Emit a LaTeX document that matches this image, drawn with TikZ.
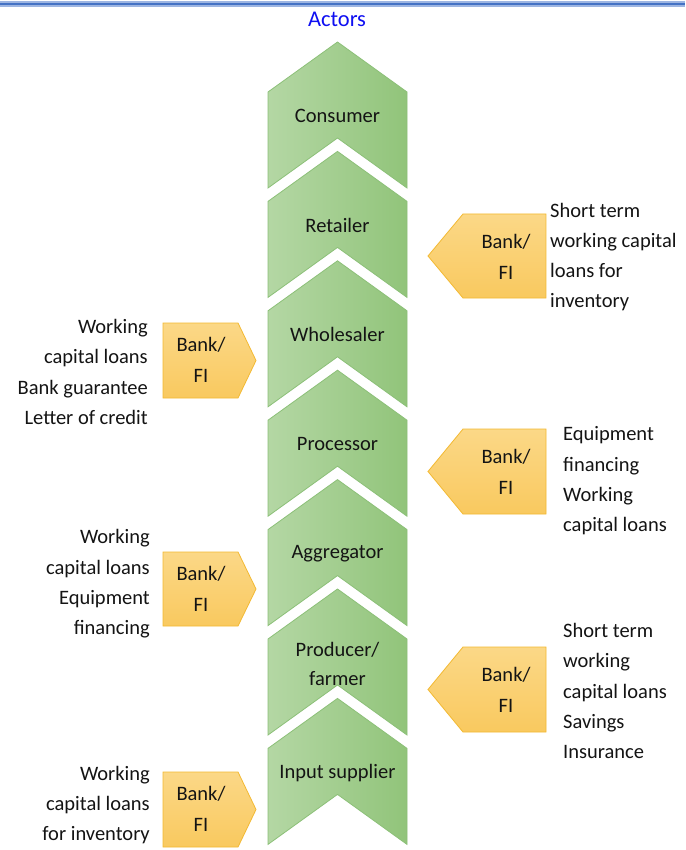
\documentclass[tikz,border=0pt]{standalone}
\usepackage{fontspec}
\setmainfont{Carlito}
\begin{document}
\begin{tikzpicture}[x=1pt,y=-1pt]
\definecolor{gL}{HTML}{B4D7A4}
\definecolor{gR}{HTML}{91C47A}
\definecolor{gB}{HTML}{8CC078}
\definecolor{yT}{HTML}{FBD887}
\definecolor{yB}{HTML}{F9C95F}
\definecolor{yE}{HTML}{F3B932}
\definecolor{txt}{HTML}{141414}
\definecolor{lineL}{HTML}{9DB5E2}
\definecolor{lineD}{HTML}{4472C4}
\definecolor{actblue}{HTML}{0F0FF2}
\tikzset{
  chevtext/.style={font=\fontsize{20.5}{29}\selectfont, text=txt, align=center, inner sep=0pt},
  banktext/.style={font=\fontsize{20.5}{31}\selectfont, text=txt, align=center, inner sep=0pt},
  desc/.style={font=\fontsize{20.5}{30.3}\selectfont, text=txt, inner sep=0pt},
  descR/.style={desc, anchor=west, align=left},
  descL/.style={desc, anchor=east, align=right},
  chevshape/.style={left color=gL, right color=gR, draw=gB, line width=0.8pt},
  bankshape/.style={top color=yT, bottom color=yB, draw=yE, line width=0.8pt}
}
\newcommand\chevdraw[1]{%
  \draw[chevshape] (337.5,#1) -- (407,#1+50) -- (407,#1+146) -- (337.5,#1+96)
    -- (268,#1+146) -- (268,#1+50) -- cycle;}
% right-side box pointing left: top, bottom
\newcommand\bankright[2]{%
  \draw[bankshape] (546,#1) -- (546,#2) -- (463,#2) -- (428,{(#1+#2)/2})
    -- (463,#1) -- cycle;}
% left-side box pointing right
\newcommand\bankleft[2]{%
  \draw[bankshape] (163,#1) -- (238,#1) -- (256,{(#1+#2)/2}) -- (238,#2)
    -- (163,#2) -- cycle;}

\useasboundingbox (0,0) rectangle (685,850);
\fill[white] (0,0) rectangle (685,850);

% top rule
\fill[lineL] (0,1.5) rectangle (685,7);
\fill[lineD] (0,3) rectangle (685,5.5);

\node[font=\fontsize{22.5}{26}\selectfont, text=actblue, inner sep=0pt] (actors) at (337,19) {Actors};

% chevrons (bottom first so upper ones overlap properly)
\chevdraw{698.4}
\chevdraw{589}
\chevdraw{479.6}
\chevdraw{370.2}
\chevdraw{260.8}
\chevdraw{151.4}
\chevdraw{42}

\node[chevtext] (consumer) at (337.5,116) {Consumer};
\node[chevtext] (retailer) at (337.5,225.4) {Retailer};
\node[chevtext] (wholesaler) at (337.5,334.8) {Wholesaler};
\node[chevtext] (processor) at (337.5,444.2) {Processor};
\node[chevtext] (aggregator) at (337.5,553.6) {Aggregator};
\node[chevtext] (producer) at (337.5,664) {Producer/\\farmer};
\node[chevtext] (input) at (337.5,773) {Input supplier};

% right-side bank boxes
\bankright{214}{298}
\node[banktext] (bankR1) at (506,257) {Bank/\\FI};
\node[descR] (descR1) at (550,257) {Short term\\working capital\\loans for\\inventory};

\bankright{429}{514}
\node[banktext] (bankR2) at (506,472) {Bank/\\FI};
\node[descR] (descR2) at (563,481) {Equipment\\financing\\Working\\capital loans};

\bankright{647}{732}
\node[banktext] (bankR3) at (506,690) {Bank/\\FI};
\node[descR] (descR3) at (563,691) {Short term\\working\\capital loans\\Savings\\Insurance};

% left-side bank boxes
\bankleft{323}{398}
\node[banktext] (bankL1) at (201,360) {Bank/\\FI};
\node[descL] (descL1) at (148,372) {Working\\capital loans\\Bank guarantee\\Letter of credit};

\bankleft{552}{626}
\node[banktext] (bankL2) at (201,589) {Bank/\\FI};
\node[descL] (descL2) at (150,584) {Working\\capital loans\\Equipment\\financing};

\bankleft{772}{847}
\node[banktext] (bankL3) at (201,809) {Bank/\\FI};
\node[descL] (descL3) at (150,805) {Working\\capital loans\\for inventory};
\end{tikzpicture}
\end{document}
